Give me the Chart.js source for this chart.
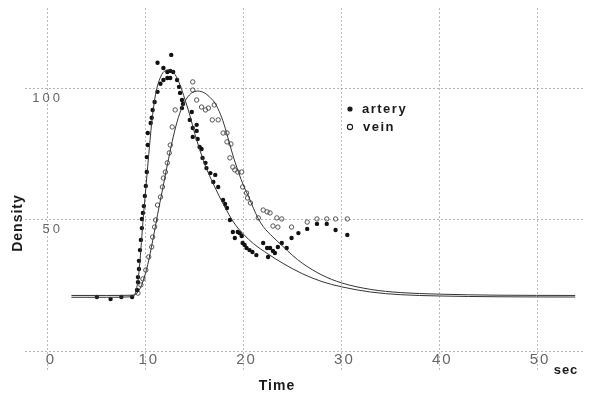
<!DOCTYPE html>
<html>
<head>
<meta charset="utf-8">
<script src="https://cdn.jsdelivr.net/npm/chart.js@4"></script>
<style>
  html, body { margin: 0; padding: 0; background: #fff; }
  #wrap { width: 592px; height: 396px; }
</style>
</head>
<body>
<div id="wrap"><canvas id="densityChart"></canvas></div>
<script>
// measured points (time in sec, density)
const arteryT = [5.0, 6.4, 7.5, 8.6, 9.1, 9.2, 9.2, 9.3, 9.3, 9.4, 9.5, 9.6, 9.6, 9.7, 9.8, 9.9, 10.0, 10.1, 10.1, 10.2, 10.2,
  10.5, 10.6, 10.7, 10.9, 11.2, 11.5, 11.2, 11.8, 11.8, 12.2, 12.2, 12.5, 12.5, 12.6, 12.8, 13.2, 13.4, 13.5, 13.7, 13.8, 13.7,
  14.7, 14.5, 14.8, 15.2, 15.2, 14.8, 15.3, 15.5, 15.7, 15.8, 16.1, 16.2, 16.6, 17.1, 16.9, 17.4, 17.9, 18.1, 18.3, 18.6, 18.9,
  19.1, 19.4, 19.6, 19.8, 19.9, 20.1, 20.3, 20.6, 20.9, 21.3, 22.0, 22.4, 22.7, 23.0, 22.5, 23.2, 23.5, 23.9, 24.4, 24.9, 25.6,
  26.5, 27.5, 28.5, 29.4, 30.6];
const arteryD = [20.6, 19.8, 20.6, 20.6, 23.3, 26.3, 28.2, 31.3, 34.4, 38.5, 42.4, 46.9, 50.4, 52.7, 55.3, 59.2, 63, 68.3, 74, 78.6, 83.2,
  87, 89, 92, 95, 98.9, 102, 110, 103.4, 108, 106.5, 104.2, 106.9, 104.2, 113, 106.5, 103.4, 100.8, 98.5, 95.8, 94.3, 92.7,
  91.2, 88.2, 85.1, 86.3, 84, 81.7, 80.9, 77.9, 77.1, 73.7, 71.8, 69.8, 67.9, 67.2, 64.5, 62.6, 57.6, 56.1, 54.6, 50, 45.4,
  43.1, 45.4, 45, 43.9, 41.2, 40.5, 39.3, 38.5, 37.8, 36.6, 41.2, 39.3, 39.3, 38.2, 35.9, 37.4, 39.7, 41.2, 39.3, 43.1, 45,
  46.6, 48.5, 48.5, 46.2, 44.3];

const veinT = [9.2, 9.5, 9.7, 10.0, 10.3, 10.6, 10.7, 10.9, 11.0, 11.2, 11.5, 11.7, 11.8, 12.0, 12.2, 12.4, 12.5, 12.7, 13.0,
  14.8, 14.8, 15.2, 15.7, 16.1, 16.4, 17.0, 16.8, 17.4, 17.9, 18.3, 18.3, 18.7, 18.6, 18.9, 19.1, 19.4, 19.8, 19.9, 20.3, 20.4,
  20.7, 22.0, 22.4, 22.7, 21.5, 23.4, 23.9, 23.0, 23.5, 24.9, 26.5, 27.5, 28.5, 29.4, 30.6];
const veinD = [22.1, 25.2, 27.5, 30.9, 35.9, 39.7, 43.5, 47.3, 50, 55.7, 58.8, 62.6, 66, 68.3, 71.8, 75.6, 78.6, 85.5, 92,
  102.7, 99.6, 95.8, 93.1, 92, 92.7, 93.9, 88.2, 88.2, 83.2, 83.2, 79.8, 79, 73.7, 70.2, 69.1, 68.3, 68.3, 62.6, 60.3, 58.4,
  56.5, 53.8, 53.1, 52.7, 50.8, 50.8, 50.4, 47.7, 47.3, 47.3, 49.2, 50.4, 50.4, 50.4, 50.4];

// fitted curves
const arteryFitT = [2.4, 6, 8.6, 9.0, 9.3, 9.5, 9.7, 10.0, 10.3, 10.6, 11.0, 11.5, 12.0, 12.5, 13.0, 13.5, 14.0, 14.5, 15.0,
  15.5, 16.0, 17.0, 18.0, 19.0, 20.0, 21.0, 22.5, 24.0, 26.0, 28.0, 30.0, 33.0, 36.0, 40.0, 46.0, 53.9];
const arteryFitD = [20.5, 20.5, 20.7, 23, 30, 39, 49, 62, 75, 87, 98, 104.5, 107, 107.3, 105.5, 101.5, 96, 90, 83,
  77, 71.5, 63, 55.5, 49, 44.5, 41, 37, 33.5, 29.5, 26.5, 24.5, 22.5, 21.5, 21, 20.7, 20.6];

const veinFitT = [2.4, 6, 8.7, 9.2, 9.7, 10.2, 10.7, 11.2, 11.7, 12.2, 12.7, 13.2, 13.7, 14.2, 14.7, 15.3, 16.0, 16.5, 17.0,
  17.5, 18.0, 18.5, 19.0, 19.5, 20.0, 20.5, 21.0, 21.5, 22.0, 23.0, 24.0, 25.0, 26.0, 28.0, 30.0, 33.0, 36.0, 40.0, 46.0, 53.9];
const veinFitD = [21.2, 21.2, 21.3, 22.5, 26.5, 33, 42, 52, 61.5, 71, 80, 87.5, 93, 96.5, 98.5, 99.2, 98.5, 97, 95,
  91.5, 86.5, 80, 73.5, 68, 63, 59, 54.5, 50.5, 47.5, 43.5, 40, 36.5, 33.5, 29, 26, 23.5, 22.3, 21.7, 21.3, 21.2];

const xTicks = [0, 10, 20, 30, 40, 50];
const yTicks = [0, 50, 100];
const yTickLabels = ['', '50', '100'];

const pts = (t, d) => t.map((v, i) => ({ x: v, y: d[i] }));

const textPlugin = {
  id: 'textPlugin',
  afterDraw(chart) {
    const ctx = chart.ctx;
    const xs = chart.scales.x, ys = chart.scales.y;
    ctx.save();
    ctx.fillStyle = '#666';
    ctx.textBaseline = 'middle';
    // tick labels
    ctx.font = '15px "Liberation Sans"';
    ctx.letterSpacing = '2px';
    ctx.textAlign = 'center';
    xTicks.forEach(v => ctx.fillText(String(v), xs.getPixelForValue(v) + 3, ys.getPixelForValue(0) + 9));
    ctx.font = '13px "Liberation Sans"';
    ctx.letterSpacing = '3px';
    ctx.textAlign = 'right';
    yTicks.forEach((v, i) => ctx.fillText(yTickLabels[i], 63, ys.getPixelForValue(v) + 9));

    // axis titles
    ctx.fillStyle = '#1a1a1a';
    ctx.font = 'bold 14px "Liberation Sans"';
    ctx.letterSpacing = '1px';
    ctx.textAlign = 'center';
    ctx.fillText('Time', 277, 386);
    ctx.font = 'bold 13px "Liberation Sans"';
    ctx.fillText('sec', 566, 370);
    ctx.save();
    ctx.translate(18, 223);
    ctx.rotate(-Math.PI / 2);
    ctx.font = 'bold 14px "Liberation Sans"';
    ctx.fillText('Density', 0, 0);
    ctx.restore();

    // legend
    ctx.font = 'bold 13px "Liberation Sans"';
    ctx.letterSpacing = '1.5px';
    ctx.textAlign = 'left';
    ctx.fillText('artery', 362, 109);
    ctx.fillText('vein', 363, 127);
    ctx.beginPath();
    ctx.arc(350, 109, 2.6, 0, Math.PI * 2);
    ctx.fill();
    ctx.beginPath();
    ctx.arc(350, 127, 2.6, 0, Math.PI * 2);
    ctx.lineWidth = 1.1;
    ctx.strokeStyle = '#1a1a1a';
    ctx.stroke();
    ctx.restore();
  }
};

const ctx = document.getElementById('densityChart').getContext('2d');
const densityChart = new Chart(ctx, {
  type: 'scatter',
  data: {
    datasets: [
      {
        label: 'artery fit',
        type: 'line',
        data: pts(arteryFitT, arteryFitD),
        borderColor: '#333',
        borderWidth: 1,
        pointRadius: 0,
        cubicInterpolationMode: 'monotone',
        fill: false
      },
      {
        label: 'vein fit',
        type: 'line',
        data: pts(veinFitT, veinFitD),
        borderColor: '#333',
        borderWidth: 1,
        pointRadius: 0,
        cubicInterpolationMode: 'monotone',
        fill: false
      },
      {
        label: 'artery',
        data: pts(arteryT, arteryD),
        pointRadius: 2.2,
        pointBackgroundColor: '#111',
        pointBorderColor: '#111',
        pointBorderWidth: 0
      },
      {
        label: 'vein',
        data: pts(veinT, veinD),
        pointRadius: 2.2,
        pointBackgroundColor: 'rgba(0,0,0,0)',
        pointBorderColor: '#555',
        pointBorderWidth: 1
      }
    ]
  },
  options: {
    responsive: true,
    maintainAspectRatio: false,
    animation: false,
    layout: { padding: { left: 25, top: 8, right: 7, bottom: 26 } },
    plugins: {
      legend: { display: false },
      tooltip: { enabled: false }
    },
    scales: {
      x: {
        type: 'linear',
        min: -2.35,
        max: 54.9,
        afterBuildTicks: s => { s.ticks = xTicks.map(v => ({ value: v })); },
        ticks: { display: false },
        border: { display: false, dash: [2, 2] },
        grid: { color: 'rgba(120,120,120,0.5)', lineWidth: 1, drawTicks: false }
      },
      y: {
        type: 'linear',
        min: -7.25,
        max: 130.9,
        afterBuildTicks: s => { s.ticks = yTicks.map(v => ({ value: v })); },
        ticks: { display: false },
        border: { display: false, dash: [2, 2] },
        grid: { color: 'rgba(120,120,120,0.55)', lineWidth: 1, drawTicks: false }
      }
    }
  },
  plugins: [textPlugin]
});
</script>
</body>
</html>
